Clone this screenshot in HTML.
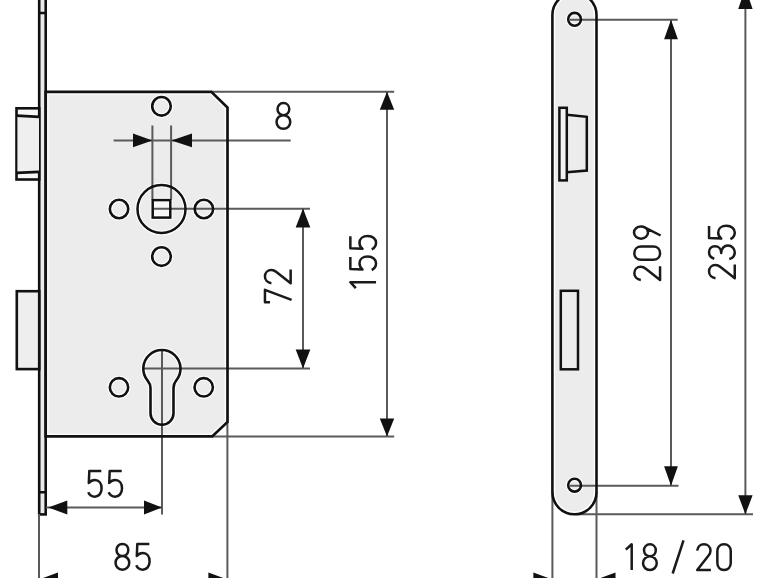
<!DOCTYPE html>
<html><head><meta charset="utf-8"><style>
html,body{margin:0;padding:0;background:#fff;}
svg{display:block;}
</style></head><body>
<svg width="770" height="578" viewBox="0 0 770 578">
<rect width="770" height="578" fill="#fff"/>
<!-- body fill -->
<path d="M45.7,91.8 H211.3 L227.5,107.6 V421.9 L212.2,436.4 H45.7 Z" fill="#ececec" stroke="#fff" stroke-width="5.5"/>
<!-- left faceplate -->
<rect x="39.2" y="-5" width="6.5" height="519.4" fill="#ebebeb" stroke="#111" stroke-width="2.6"/>
<path d="M39.2,13 H45.7 M39.2,492.3 H45.7" stroke="#111" stroke-width="2.6"/>
<!-- latch -->
<rect x="16.5" y="108.3" width="22.7" height="71.2" fill="#f6f6f6" stroke="#111" stroke-width="2.6"/>
<path d="M17.5,116 L39,117.2 V171.5 L17.5,172.5 Z" fill="#efefef" stroke="none"/>
<path d="M16.5,115.6 L39,116.8 M16.5,172.9 L39,171.9" stroke="#111" stroke-width="2.8"/>
<!-- deadbolt -->
<rect x="16.8" y="291.2" width="22.4" height="77.9" fill="#eeeeee" stroke="#111" stroke-width="2.6"/>
<!-- fills -->
<path d="M552.4,15 A22.05,22.05 0 0 1 596.5,15 V492.3 A22.05,22.05 0 0 1 552.4,492.3 Z" fill="#ececec" stroke="#fff" stroke-width="5.5"/>
<g><circle cx="161.5" cy="106.35" r="9.3" fill="none" stroke="#fff" stroke-width="4.800000000000001"/><circle cx="161.5" cy="209.0" r="24" fill="none" stroke="#fff" stroke-width="4.7"/><circle cx="119.05" cy="209.0" r="9.2" fill="none" stroke="#fff" stroke-width="4.800000000000001"/><circle cx="203.9" cy="209.0" r="9.2" fill="none" stroke="#fff" stroke-width="4.800000000000001"/><circle cx="161.5" cy="256.6" r="9.3" fill="none" stroke="#fff" stroke-width="4.800000000000001"/><circle cx="119" cy="387.3" r="9.2" fill="none" stroke="#fff" stroke-width="4.800000000000001"/><circle cx="203.7" cy="387.3" r="9.2" fill="none" stroke="#fff" stroke-width="4.800000000000001"/><path d="M150.5,388 V413.3 A11.5,11.5 0 0 0 173.5,413.3 V388 Q173.5,384 176.15,380.56 A18.6,18.6 0 1 0 147.65,380.56 Q150.5,384 150.5,388 Z" fill="none" stroke="#fff" stroke-width="4.800000000000001"/><circle cx="574.6" cy="19.3" r="6.4" fill="none" stroke="#fff" stroke-width="4.800000000000001"/><circle cx="574.6" cy="485.2" r="6.4" fill="none" stroke="#fff" stroke-width="4.800000000000001"/></g>
<rect x="152.7" y="200.1" width="17.6" height="17.5" fill="#f8f8f8" stroke="#fff" stroke-width="4.5"/>
<rect x="559.4" y="107.8" width="7.4" height="72.6" fill="#f2f2f2" stroke="none"/>
<!-- dimension lines -->
<path d="M152.4,125.5 V199.5 M171.1,125.5 V199.5 M113.6,140.4 H290.7 M152.6,208.7 H310 M142.5,368.6 H310 M303,208.6 V368.5 M211,91.8 H394.2 M212,436.4 H394.2 M387,91.8 V436.4 M162,350 V514.4 M46,507.5 H162 M39,514 V590 M227.4,421.8 V590 M39,579.5 H227.4 M570,19.8 H677.7 M570,485.8 H678.5 M671,19.8 V485.8 M575,514.3 H753 M745.4,-12 V514.3 M552.4,492 V590 M596.5,492 V590 M520,579.5 H630" fill="none" stroke="#5a5a5a" stroke-width="2"/>
<!-- black outlines -->
<path d="M45.7,91.8 H211.3 L227.5,107.6 V421.9 L212.2,436.4 H45.7 Z" fill="none" stroke="#111" stroke-width="2.7"/>
<path d="M552.4,15 A22.05,22.05 0 0 1 596.5,15 V492.3 A22.05,22.05 0 0 1 552.4,492.3 Z" fill="none" stroke="#111" stroke-width="2.6"/>
<g><circle cx="161.5" cy="106.35" r="9.3" fill="none" stroke="#111" stroke-width="2.6"/><circle cx="161.5" cy="209.0" r="24" fill="none" stroke="#111" stroke-width="2.5"/><circle cx="119.05" cy="209.0" r="9.2" fill="none" stroke="#111" stroke-width="2.6"/><circle cx="203.9" cy="209.0" r="9.2" fill="none" stroke="#111" stroke-width="2.6"/><circle cx="161.5" cy="256.6" r="9.3" fill="none" stroke="#111" stroke-width="2.6"/><circle cx="119" cy="387.3" r="9.2" fill="none" stroke="#111" stroke-width="2.6"/><circle cx="203.7" cy="387.3" r="9.2" fill="none" stroke="#111" stroke-width="2.6"/><path d="M150.5,388 V413.3 A11.5,11.5 0 0 0 173.5,413.3 V388 Q173.5,384 176.15,380.56 A18.6,18.6 0 1 0 147.65,380.56 Q150.5,384 150.5,388 Z" fill="none" stroke="#111" stroke-width="2.6"/><circle cx="574.6" cy="19.3" r="6.4" fill="none" stroke="#111" stroke-width="2.6"/><circle cx="574.6" cy="485.2" r="6.4" fill="none" stroke="#111" stroke-width="2.6"/></g>
<g fill="none" stroke="#111" stroke-width="2.5">
<rect x="152.7" y="200.1" width="17.6" height="17.5"/>
<rect x="559.4" y="107.8" width="7.4" height="72.6"/>
<path d="M566.8,114.8 L586.8,116.8 V170.5 L566.8,172.3"/>
<rect x="560.8" y="290.8" width="17.2" height="78.5"/>
</g>
<g fill="#111" stroke="none"><path d="M152.4,140.4 L133.0,133.6 L133.0,147.2 Z"/><path d="M171.4,140.4 L192.0,133.6 L192.0,147.2 Z"/><path d="M303.0,208.6 L295.7,227.6 L310.3,227.6 Z"/><path d="M303.0,368.5 L295.7,349.5 L310.3,349.5 Z"/><path d="M387.0,91.8 L379.8,109.8 L394.2,109.8 Z"/><path d="M387.0,436.4 L379.8,418.4 L394.2,418.4 Z"/><path d="M48.3,507.5 L67.3,500.6 L67.3,514.4 Z"/><path d="M162.0,507.5 L144.0,500.6 L144.0,514.4 Z"/><path d="M39.0,579.5 L58.0,572.5 L58.0,586.5 Z"/><path d="M227.4,579.5 L208.4,572.5 L208.4,586.5 Z"/><path d="M671.0,19.8 L664.1,39.3 L677.9,39.3 Z"/><path d="M671.0,485.8 L664.1,466.3 L677.9,466.3 Z"/><path d="M745.4,-12.0 L738.2,9.0 L752.6,9.0 Z"/><path d="M745.4,514.3 L738.2,495.3 L752.6,495.3 Z"/><path d="M552.4,579.5 L533.4,572.5 L533.4,586.5 Z"/><path d="M596.5,579.5 L615.5,572.5 L615.5,586.5 Z"/></g>
<!-- texts -->
<g fill="none" stroke="#1a1a1a" stroke-width="2.5" stroke-linecap="butt" stroke-linejoin="round">
<g transform="translate(275.4,101.9) scale(1.0)"><path transform="translate(0.00,0)" d="M8,13.25 C4.6,13.25 2.1,10.6 2.1,7.2 C2.1,3.8 4.6,1.15 8,1.15 C11.4,1.15 13.9,3.8 13.9,7.2 C13.9,10.6 11.4,13.25 8,13.25 C4,13.25 1.15,16.2 1.15,20.05 C1.15,23.9 4,26.85 8,26.85 C12,26.85 14.85,23.9 14.85,20.05 C14.85,16.2 12,13.25 8,13.25 Z"/></g>
<g transform="translate(87,469.8) scale(1.0)"><path transform="translate(0.00,0)" d="M14.3,1.15 H2.3 L1.8,13.3 C3.3,11.4 5.5,10.3 7.9,10.3 C11.9,10.3 14.6,13.6 14.6,18.6 C14.6,23.6 11.7,26.85 7.9,26.85 C4.9,26.85 2.4,25.2 1.2,22.5"/><path transform="translate(20.40,0)" d="M14.3,1.15 H2.3 L1.8,13.3 C3.3,11.4 5.5,10.3 7.9,10.3 C11.9,10.3 14.6,13.6 14.6,18.6 C14.6,23.6 11.7,26.85 7.9,26.85 C4.9,26.85 2.4,25.2 1.2,22.5"/></g>
<g transform="translate(114.4,542.8) scale(1.0)"><path transform="translate(0.00,0)" d="M8,13.25 C4.6,13.25 2.1,10.6 2.1,7.2 C2.1,3.8 4.6,1.15 8,1.15 C11.4,1.15 13.9,3.8 13.9,7.2 C13.9,10.6 11.4,13.25 8,13.25 C4,13.25 1.15,16.2 1.15,20.05 C1.15,23.9 4,26.85 8,26.85 C12,26.85 14.85,23.9 14.85,20.05 C14.85,16.2 12,13.25 8,13.25 Z"/><path transform="translate(20.60,0)" d="M14.3,1.15 H2.3 L1.8,13.3 C3.3,11.4 5.5,10.3 7.9,10.3 C11.9,10.3 14.6,13.6 14.6,18.6 C14.6,23.6 11.7,26.85 7.9,26.85 C4.9,26.85 2.4,25.2 1.2,22.5"/></g>
<g transform="translate(263.8,303.4) rotate(-90) scale(1.0)"><path transform="translate(0.00,0)" d="M1.15,6.2 V1.15 H13.6 L3.5,27.8"/><path transform="translate(18.80,0)" d="M1.4,7.6 C1.9,3.7 4.7,1.15 8.1,1.15 C11.9,1.15 14.7,3.9 14.7,7.6 C14.7,9.6 13.9,11.1 12.6,12.6 L1.4,26.85 H15.1"/></g>
<g transform="translate(349.2,289.4) rotate(-90) scale(1.0)"><path transform="translate(0.00,0)" d="M1.3,6.6 L7.2,1.15 V26.85"/><path transform="translate(18.20,0)" d="M14.3,1.15 H2.3 L1.8,13.3 C3.3,11.4 5.5,10.3 7.9,10.3 C11.9,10.3 14.6,13.6 14.6,18.6 C14.6,23.6 11.7,26.85 7.9,26.85 C4.9,26.85 2.4,25.2 1.2,22.5"/><path transform="translate(38.80,0)" d="M14.3,1.15 H2.3 L1.8,13.3 C3.3,11.4 5.5,10.3 7.9,10.3 C11.9,10.3 14.6,13.6 14.6,18.6 C14.6,23.6 11.7,26.85 7.9,26.85 C4.9,26.85 2.4,25.2 1.2,22.5"/></g>
<g transform="translate(633.2,281.4) rotate(-90) scale(1.0)"><path transform="translate(0.00,0)" d="M1.4,7.6 C1.9,3.7 4.7,1.15 8.1,1.15 C11.9,1.15 14.7,3.9 14.7,7.6 C14.7,9.6 13.9,11.1 12.6,12.6 L1.4,26.85 H15.1"/><path transform="translate(20.40,0)" d="M1.15,8 C1.15,3.9 4,1.15 7.85,1.15 C11.7,1.15 14.55,3.9 14.55,8 V20 C14.55,24.1 11.7,26.85 7.85,26.85 C4,26.85 1.15,24.1 1.15,20 Z"/><path transform="translate(40.80,0)" d="M8,14.8 C4.6,14.8 1.9,11.7 1.9,7.8 C1.9,3.9 4.6,0.8 8,0.8 C11.4,0.8 14.1,3.9 14.1,7.8 C14.1,9.5 13.6,11 12.8,12.4 L5.1,27.4 M13.3,11.6 C12.1,13.6 10.2,14.8 8,14.8"/></g>
<g transform="translate(707.9,279.6) rotate(-90) scale(1.0)"><path transform="translate(0.00,0)" d="M1.4,7.6 C1.9,3.7 4.7,1.15 8.1,1.15 C11.9,1.15 14.7,3.9 14.7,7.6 C14.7,9.6 13.9,11.1 12.6,12.6 L1.4,26.85 H15.1"/><path transform="translate(19.40,0)" d="M1.5,6.4 C2.3,3.1 4.9,1.15 8,1.15 C11.4,1.15 13.9,3.6 13.9,7 C13.9,10.6 11.3,13.3 7.2,13.3 C11.6,13.3 14.6,16.2 14.6,20 C14.6,24 11.7,26.85 7.9,26.85 C4.6,26.85 2,24.8 1.2,21.4"/><path transform="translate(39.20,0)" d="M14.3,1.15 H2.3 L1.8,13.3 C3.3,11.4 5.5,10.3 7.9,10.3 C11.9,10.3 14.6,13.6 14.6,18.6 C14.6,23.6 11.7,26.85 7.9,26.85 C4.9,26.85 2.4,25.2 1.2,22.5"/></g>
<g transform="translate(624.5,543.1) scale(1.0)"><path transform="translate(0.00,0)" d="M1.3,6.6 L7.2,1.15 V26.85"/><path transform="translate(17.40,0)" d="M8,13.25 C4.6,13.25 2.1,10.6 2.1,7.2 C2.1,3.8 4.6,1.15 8,1.15 C11.4,1.15 13.9,3.8 13.9,7.2 C13.9,10.6 11.4,13.25 8,13.25 C4,13.25 1.15,16.2 1.15,20.05 C1.15,23.9 4,26.85 8,26.85 C12,26.85 14.85,23.9 14.85,20.05 C14.85,16.2 12,13.25 8,13.25 Z"/><path transform="translate(47.30,0)" d="M11.7,-2.8 L0.9,30.4"/><path transform="translate(71.30,0)" d="M1.4,7.6 C1.9,3.7 4.7,1.15 8.1,1.15 C11.9,1.15 14.7,3.9 14.7,7.6 C14.7,9.6 13.9,11.1 12.6,12.6 L1.4,26.85 H15.1"/><path transform="translate(91.70,0)" d="M1.15,8 C1.15,3.9 4,1.15 7.85,1.15 C11.7,1.15 14.55,3.9 14.55,8 V20 C14.55,24.1 11.7,26.85 7.85,26.85 C4,26.85 1.15,24.1 1.15,20 Z"/></g>
</g>
</svg>
</body></html>
